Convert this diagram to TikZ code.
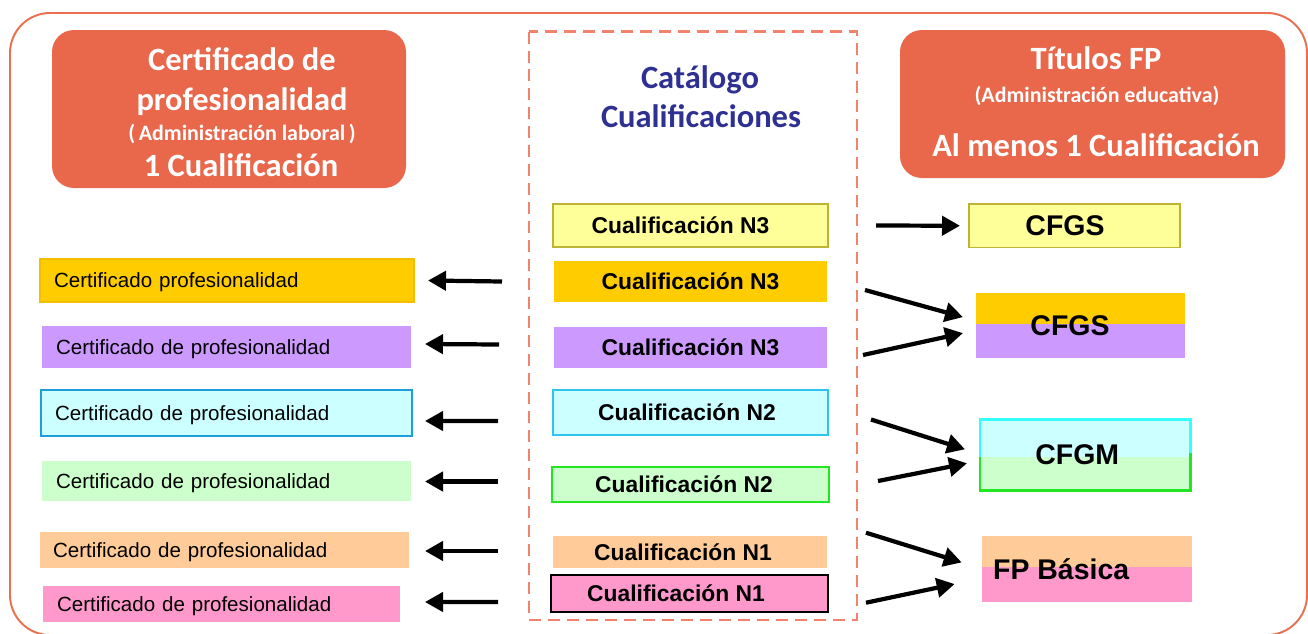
\documentclass[tikz,border=0pt]{standalone}
\usepackage{fontspec}
\setmainfont{Liberation Sans}
\newfontfamily\calib{Carlito}
\usetikzlibrary{arrows.meta,calc}

\definecolor{hdr}{HTML}{E9674A}
\definecolor{outerc}{HTML}{E8704F}
\definecolor{dashc}{HTML}{F2826C}
\definecolor{catblue}{HTML}{2E3192}
\definecolor{qyel}{HTML}{FFFF99}
\definecolor{qyelb}{HTML}{BDB435}
\definecolor{gold}{HTML}{FFCC00}
\definecolor{goldb}{HTML}{F2BE00}
\definecolor{purp}{HTML}{CC99FF}
\definecolor{cyanf}{HTML}{CCFFFF}
\definecolor{cyanb}{HTML}{2EC4F0}
\definecolor{cyanbl}{HTML}{1E9FDB}
\definecolor{cyanbr}{HTML}{33FFFF}
\definecolor{greenf}{HTML}{CCFFCC}
\definecolor{greenb}{HTML}{22E622}
\definecolor{peach}{HTML}{FFCC99}
\definecolor{pinkf}{HTML}{FF99CC}

\newcommand{\hbig}{\calib\bfseries\fontsize{18.5}{22}\selectfont}
\newcommand{\hsmall}{\calib\bfseries\fontsize{12.5}{15}\selectfont}
\newcommand{\qfont}{\bfseries\fontsize{13}{15}\selectfont}
\newcommand{\cfont}{\fontsize{11.7}{14}\selectfont}
\newcommand{\tfont}{\bfseries\fontsize{16.2}{19}\selectfont}
\newcommand{\sft}[1]{\hspace{#1}\null}

\tikzset{
  ab/.style n args={4}{minimum width={(#3-#1)*0.02cm}, minimum height={(#4-#2)*0.02cm}, at={({(#1+#3)/2},{(#2+#4)/2})}},
  hbox/.style={fill=hdr, rounded corners=0.44cm, inner sep=0pt, outer sep=0pt},
  htext/.style={text=white, inner sep=0pt, anchor=base},
  qbox/.style={inner sep=0pt, outer sep=0pt, font=\qfont},
  cbox/.style={inner sep=0pt, inner xsep=0.28cm, outer sep=0pt, align=left, font=\cfont, text height=8.4pt, text depth=0pt},
  tbox/.style={inner sep=0pt, outer sep=0pt, font=\tfont},
  arr/.style={line width=2.4pt, -{Triangle[length=0.36cm,width=0.38cm]}},
}

\begin{document}
\begin{tikzpicture}[x=0.02cm,y=-0.02cm]
\useasboundingbox (0,0) rectangle (1308,633);
\fill[white] (0,0) rectangle (1308,633);

% outer frame
\draw[outerc, line width=1.1pt, rounded corners=0.8cm] (10,13) rectangle (1307,635);

% header boxes
\node[hbox, ab={52}{30}{406}{188}] (hl) {};
\node[htext] (hl1) at (242,70) {\hbig Certificado de};
\node[htext] (hl2) at (242,110) {\hbig profesionalidad};
\node[htext] (hl3) at (242,140) {\hsmall (\,Administración laboral\,)};
\node[htext] (hl4) at (241,176.5) {\hbig 1 Cualificación};

\node[hbox, ab={900}{30}{1285}{178}] (hr) {};
\node[htext] (hr1) at (1096,69.5) {\hbig Títulos FP};
\node[htext] (hr2) at (1097,102) {\hsmall (Administración educativa)};
\node[htext] (hr3) at (1096,156) {\hbig Al menos 1 Cualificación};

% catalogue
\draw[dashc, line width=1.3pt, dash pattern=on 0.24cm off 0.14cm] (529,31.5) rectangle (857,620);
\node[anchor=base, inner sep=0pt, text=catblue] (cat1) at (700,88) {\hbig Catálogo};
\node[anchor=base, inner sep=0pt, text=catblue] (cat2) at (701,127) {\hbig Cualificaciones};

% qualifications
\node[qbox, ab={553}{204}{828}{247}, fill=qyel, draw=qyelb, line width=0.9pt] (q1) {Cualificación N3\sft{0.4cm}};
\node[qbox, ab={554}{261}{827}{302}, fill=gold] (q2) {Cualificación N3};
\node[qbox, ab={554}{327}{827}{368}, fill=purp] (q3) {Cualificación N3};
\node[qbox, ab={553}{390}{828}{435}, fill=cyanf, draw=cyanb, line width=1pt] (q4) {Cualificación N2\sft{0.14cm}};
\node[qbox, ab={552}{467}{829}{502}, fill=greenf, draw=greenb, line width=1.2pt] (q5) {Cualificación N2\sft{0.26cm}};
\node[qbox, ab={553}{536}{827}{568}, fill=peach] (q6) {Cualificación N1\sft{0.28cm}};
\node[qbox, ab={551}{575}{828}{612}, fill=pinkf, draw=black, line width=1.5pt] (q7) {Cualificación N1\sft{0.54cm}};

% certificates
\node[cbox, ab={40}{259}{414}{302}, text width=6.92cm, fill=gold, draw=goldb, line width=0.6pt] (c1) {Certificado profesionalidad};
\node[cbox, ab={42}{326}{411}{368}, text width=6.82cm, fill=purp] (c2) {Certificado de profesionalidad};
\node[cbox, ab={41}{390}{412}{436}, text width=6.86cm, fill=cyanf, draw=cyanbl, line width=1pt] (c3) {Certificado de profesionalidad};
\node[cbox, ab={42}{461}{411}{501}, text width=6.82cm, fill=greenf] (c4) {Certificado de profesionalidad};
\node[cbox, ab={40}{532}{409}{568}, text width=6.86cm, inner xsep=0.26cm, fill=peach] (c5) {Certificado de profesionalidad};
\node[cbox, ab={43}{586}{400}{622}, text width=6.58cm, fill=pinkf] (c6) {Certificado de profesionalidad};

% titles
\node[tbox, ab={969}{204}{1180}{247.5}, fill=qyel, draw=qyelb, line width=0.9pt] (t1) {CFGS\sft{0.38cm}};

\fill[gold] (976,292.5) rectangle (1185,324.3);
\fill[purp] (976,324.3) rectangle (1185,358.3);
\node[tbox, ab={976}{292.5}{1185}{358.3}] (t2) {CFGS\sft{0.42cm}};

\fill[cyanf] (980,419.3) rectangle (1190.5,456.5);
\fill[greenf] (980,456.5) rectangle (1190.5,490.7);
\draw[cyanbr, line width=1.6pt] (980,456.5) |- (1190.5,419.3) -- (1190.5,453);
\draw[greenb, line width=1.5pt] (980,456.5) |- (1190.5,490.7) -- (1190.5,453);
\node[tbox, ab={980}{419.3}{1190.5}{490.7}] (t3) {CFGM\sft{0.32cm}};

\fill[peach] (981.7,535.7) rectangle (1191.7,566.7);
\fill[pinkf] (981.7,566.7) rectangle (1191.7,601.7);
\node[tbox, ab={981.7}{535.7}{1191.7}{601.7}] (t4) {FP Básica\sft{1.02cm}};

% arrows to certificates
\draw[arr] ($(q2.west)+(-52,0)$) -- ($(c1.east)+(14,0)$);
\draw[arr] ($(q3.west)+(-55,-3)$) -- ($(c2.east)+(14,-3)$);
\draw[arr] ($(q4.west)+(-55,8.5)$) -- ($(c3.east)+(13,8)$);
\draw[arr] ($(q5.west)+(-54,-3)$) -- ($(c4.east)+(14,0.5)$);
\draw[arr] ($(q6.west)+(-55,-1)$) -- ($(c5.east)+(16,1)$);
\draw[arr] ($(q7.west)+(-53,8.5)$) -- ($(c6.east)+(25,-2)$);

% arrows to titles
\draw[arr] ($(q1.east)+(48,0)$) -- ($(t1.west)+(-9,0)$);
\draw[arr] ($(q2.east)+(38,8.5)$) -- ($(t2.west)+(-13,-8.3)$);
\draw[arr] ($(q3.east)+(36,7.5)$) -- ($(t2.west)+(-13,7.7)$);
\draw[arr] ($(q4.east)+(43,7)$) -- ($(t3.west)+(-15,-5.7)$);
\draw[arr] ($(q5.east)+(49,-3.5)$) -- ($(t3.west)+(-13,8.3)$);
\draw[arr] ($(q6.east)+(39,-19.3)$) -- ($(t4.west)+(-20,-6.3)$);
\draw[arr] ($(q7.east)+(38,9.2)$) -- ($(t4.west)+(-27,15.3)$);
\end{tikzpicture}
\end{document}
